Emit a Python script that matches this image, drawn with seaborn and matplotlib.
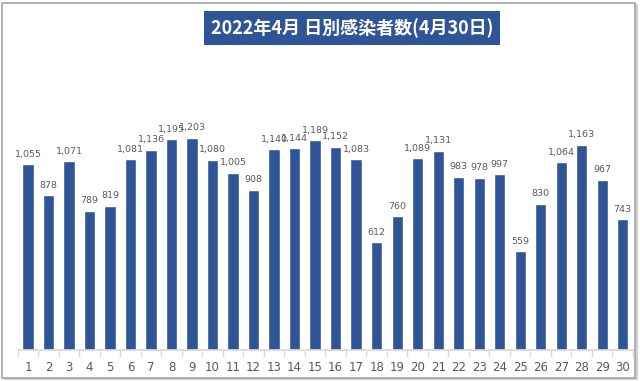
import matplotlib
matplotlib.use("Agg")
import matplotlib.pyplot as plt
from matplotlib.patches import Rectangle
import pandas as pd
import seaborn as sns

# 2022年4月 日別感染者数
days = list(range(1, 31))
cases = [1055, 878, 1071, 789, 819, 1081, 1136, 1195, 1203, 1080,
         1005, 908, 1140, 1144, 1189, 1152, 1083, 612, 760, 1089,
         1131, 983, 978, 997, 559, 830, 1064, 1163, 967, 743]
title = "2022年4月 日別感染者数(4月30日)"

df = pd.DataFrame({"day": [str(d) for d in days], "cases": cases})

sns.set_theme(style="white")
plt.rcParams['font.family'] = ['Noto Sans CJK JP', 'DejaVu Sans']

W, H = 640, 381
fig = plt.figure(figsize=(W / 100, H / 100), dpi=100)

# outer frame with a light shadow (kept behind the axes)
fig.patches.append(Rectangle((4 / W, 1 / H), 634 / W, 376 / H, transform=fig.transFigure,
                             facecolor="#d0d0d0", edgecolor="none", zorder=-3))
fig.patches.append(Rectangle((2 / W, 3 / H), 633 / W, 375 / H, transform=fig.transFigure,
                             facecolor="white", edgecolor="#a6a6a6", linewidth=1.2, zorder=-2))

left, right, base = 17.75, 633, 350
ymax = 1400
px_per = 212 / 1203
top = base - ymax * px_per
ax = fig.add_axes([left / W, (H - base) / H, (right - left) / W, (base - top) / H])
ax.patch.set_alpha(0)

sns.barplot(data=df, x="day", y="cases", color="#2F5597", width=0.55,
            saturation=1, ax=ax)
ax.set_ylim(0, ymax)
ax.set_xlim(-0.5, len(days) - 0.5)
ax.bar_label(ax.containers[0], labels=[f"{v:,}" for v in cases],
             padding=4, fontsize=6.8, color="#595959", family="DejaVu Sans")

for s in ["top", "right", "left"]:
    ax.spines[s].set_visible(False)
ax.spines["bottom"].set_color("#d9d9d9")
ax.set_yticks([])
ax.set_xlabel("")
ax.set_ylabel("")
ax.set_xticks([i - 0.5 for i in range(len(days) + 1)], minor=True)
ax.tick_params(axis="x", which="minor", length=5, color="#d9d9d9", bottom=True)
ax.tick_params(axis="x", which="major", length=0, labelsize=8.5,
               labelcolor="#595959", pad=8)
for lbl in ax.get_xticklabels():
    lbl.set_family("DejaVu Sans")

fig.text(352 / W, 1 - 28 / H, title, ha="center", va="center", color="white",
         fontsize=13, fontweight="bold",
         bbox=dict(boxstyle="square,pad=0.4", facecolor="#2F5597", edgecolor="none"))

fig.savefig("out.png", dpi=100)
